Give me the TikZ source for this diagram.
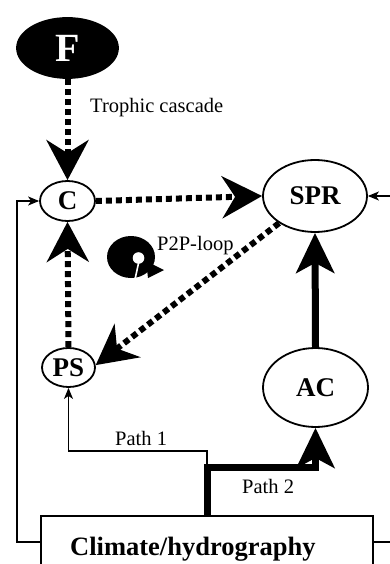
\documentclass[tikz,border=0pt]{standalone}
\usepackage{fontspec}
\setmainfont{Liberation Serif}
\usetikzlibrary{arrows.meta,shapes.geometric}
\begin{document}
\begin{tikzpicture}[x=1pt,y=-1pt,
  ell/.style={draw, ellipse, line width=1.8pt, inner sep=0pt, font=\fontsize{27}{27}\selectfont\bfseries},
  dots/.style={line width=6pt, dash pattern=on 6pt off 4pt, -{Stealth[length=40pt,width=42pt,inset=13pt]}},
  thickarr/.style={line width=7pt, line join=miter, -{Stealth[length=40pt,width=38pt,inset=10pt]}},
  thinarr/.style={line width=1.2pt, -{Stealth[length=11pt,width=9pt,inset=3pt]}},
  txt/.style={font=\fontsize{20.5}{21}\selectfont, inner sep=0pt}
]
\useasboundingbox (0,0) rectangle (390,564);
\clip (0,0) rectangle (390,564);

% nodes
\node[ell, fill=black, text=white, minimum width=101pt, minimum height=60pt,
      font=\fontsize{40}{40}\selectfont\bfseries] (F) at (67.5,48) {F};
\node[ell, minimum width=55pt, minimum height=40pt] (C) at (67.5,201) {C};
\node[ell, minimum width=53pt, minimum height=39pt] (PS) at (68.5,367.5) {PS};
\node[ell, minimum width=104pt, minimum height=72pt] (SPR) at (315,196) {SPR};
\node[ell, minimum width=105pt, minimum height=79pt] (AC) at (315.5,387.5) {AC};
\node[draw, line width=1.8pt, minimum width=332pt, minimum height=90pt, inner sep=0pt] (box) at (207,561) {};
\node[anchor=base west, inner sep=0pt, font=\fontsize{26.5}{27}\selectfont\bfseries] (boxtext) at (70,555) {Climate/hydrography};

% labels
\node[txt, anchor=base west] (tc) at (90,113) {Trophic cascade};
\node[txt, anchor=base west] (p2p) at (157,250) {P2P-loop};
\node[txt, anchor=base west] (pa1) at (115,445) {Path 1};
\node[txt, anchor=base west] (pa2) at (242,493) {Path 2};

% dotted arrows
\draw[dots] (F.south) -- (C.north);
\draw[dots] (C.east) -- (SPR.west);
\draw[dots] (PS.north) -- (C.south);
\draw[dots] (SPR.217) -- (PS.5);

% thick arrows
\draw[thickarr] (AC.north) -- (SPR.south);
\coordinate (k1) at (207,467);
\coordinate (k2) at (315.5,467);
\draw[thickarr] (box.north) -- (k1) -- (k2) -- (AC.south);

% thin arrows
\coordinate (j1) at (207,451);
\draw[thinarr] (k1) -- (j1) -| (PS.south);
\coordinate (L1) at (17,542);
\draw[thinarr] (box.west |- L1) -- (L1) |- (C.west);
\coordinate (R1) at (400,542);
\draw[thinarr] (box.east |- R1) -- (R1) |- (SPR.east);

% P2P loop icon
\fill[black] (131,257) ellipse [x radius=24pt, y radius=21pt];
\fill[black] (146,261) -- (164,270) -- (148,278) -- cycle;
\fill[white] (138.5,258) circle [radius=5.8pt];
\draw[white, line width=1.6pt] (139,261) -- (134,284);
\end{tikzpicture}
\end{document}
